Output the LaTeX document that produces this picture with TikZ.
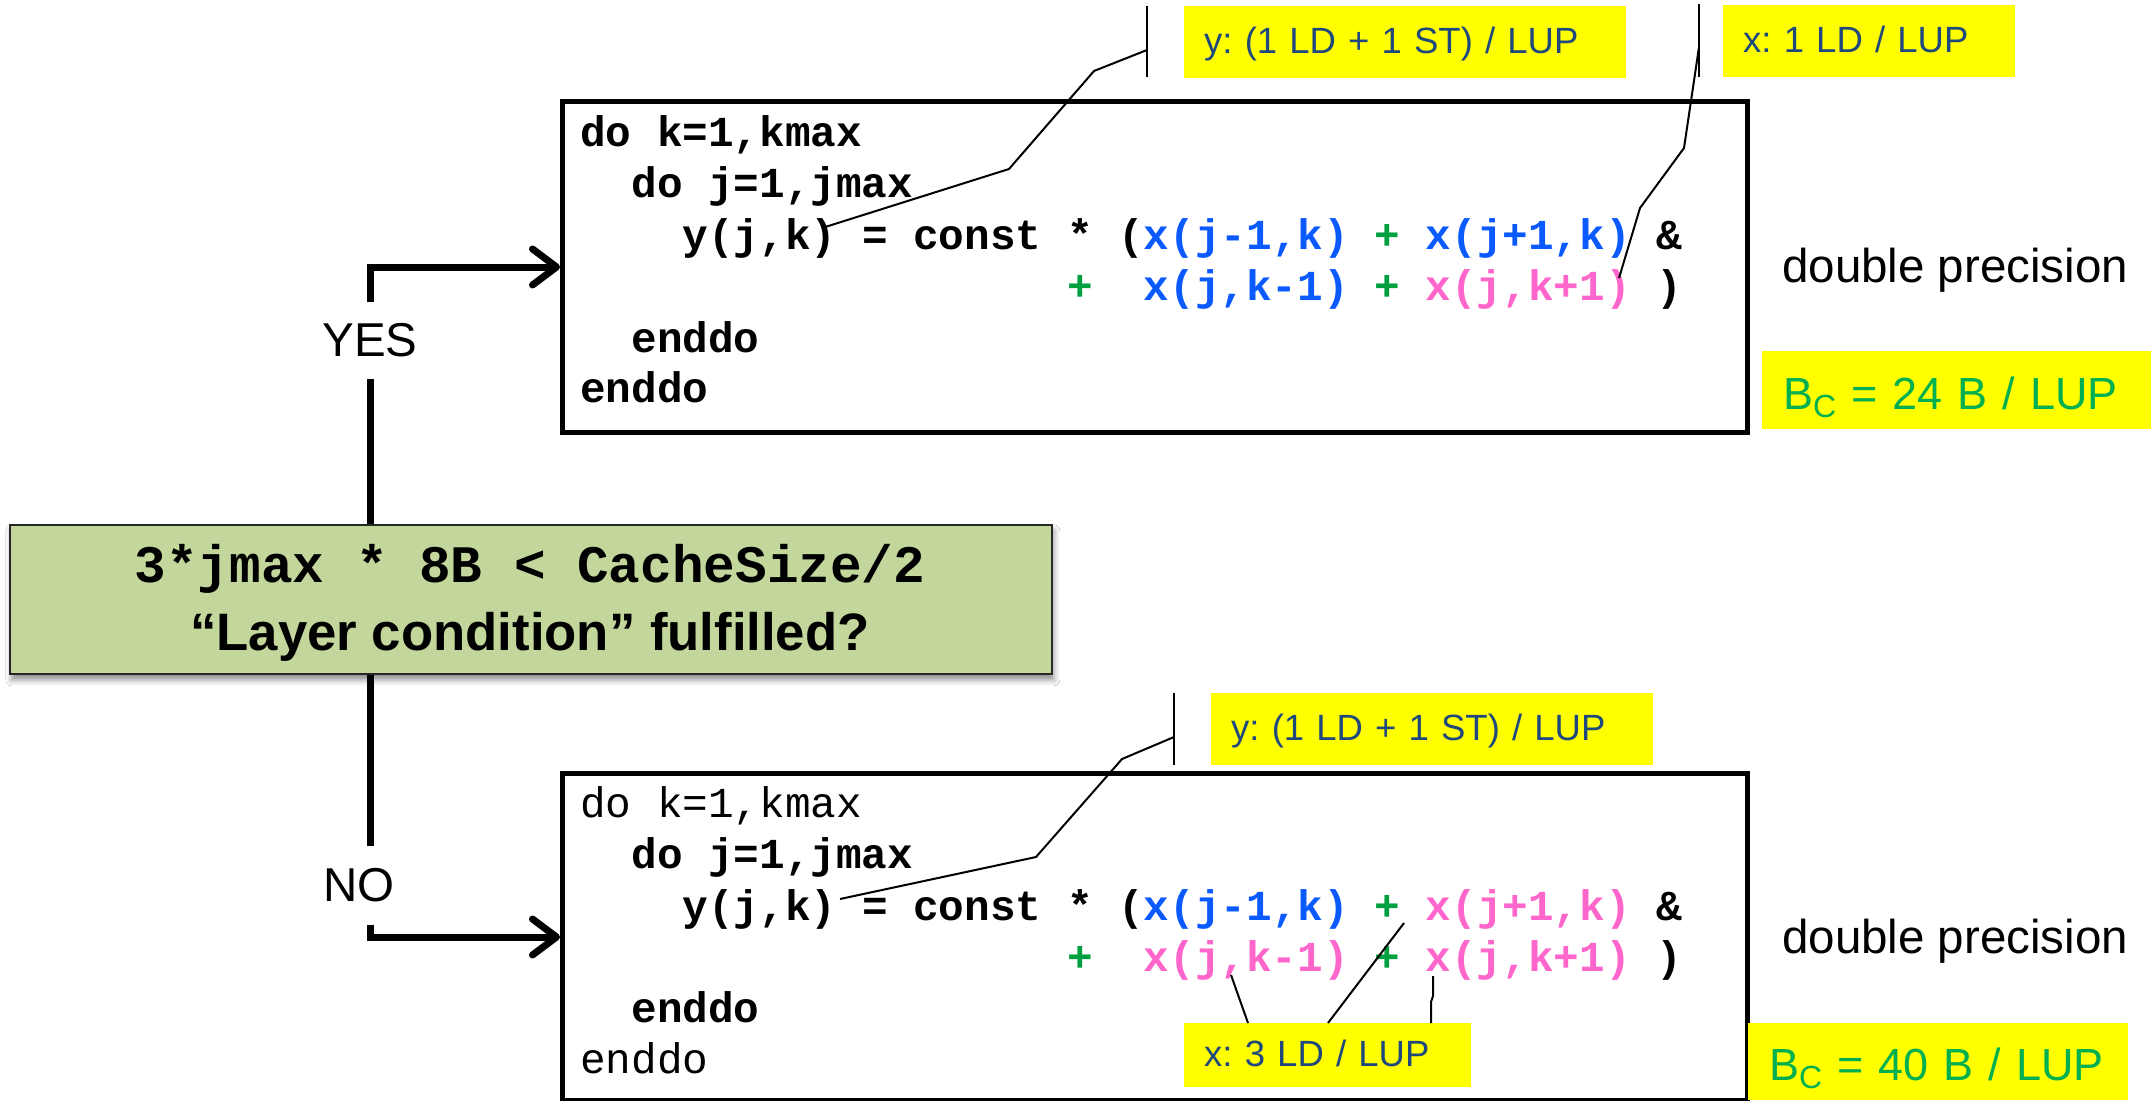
\documentclass[tikz,border=0pt]{standalone}
\usepackage{fontspec}
\setmainfont{Liberation Sans}
\newfontfamily\codefont{Liberation Mono}
\usetikzlibrary{arrows.meta,shadows.blur}
\definecolor{cblue}{HTML}{0A5AFF}
\definecolor{cpink}{HTML}{FF66CC}
\definecolor{cgreen}{HTML}{00A040}
\definecolor{labtext}{HTML}{1F497D}
\definecolor{bcgreen}{HTML}{00B050}
\definecolor{condfill}{HTML}{C3D69B}
\definecolor{labyellow}{HTML}{FFFF00}
\tikzset{
  codebox/.style={draw=black, line width=5pt, fill=white, anchor=north west, inner sep=0pt},
  codeb/.style={anchor=base west, inner sep=0pt, font=\codefont\bfseries\fontsize{42.7pt}{51pt}\selectfont},
  coder/.style={anchor=base west, inner sep=0pt, font=\codefont\mdseries\fontsize{42.7pt}{51pt}\selectfont},
  condbox/.style={fill=condfill, draw=black!85, line width=1.7pt, anchor=north west, inner sep=0pt,
    blur shadow={shadow xshift=2pt, shadow yshift=-6pt, shadow blur radius=6pt, shadow opacity=45}},
  lab/.style={fill=labyellow, anchor=north west, inner xsep=20pt, inner ysep=0pt, text height=28pt,
    text depth=6pt, align=left, text=labtext, font=\fontsize{36.5pt}{40pt}\selectfont},
  bclab/.style={fill=labyellow, anchor=north west, inner xsep=21pt, inner ysep=0pt, text height=38pt,
    text depth=0pt, align=left, text=bcgreen, font=\fontsize{45pt}{50pt}\selectfont},
  sidetext/.style={anchor=base west, inner sep=0pt, font=\fontsize{47.5pt}{52pt}\selectfont},
  yn/.style={inner xsep=0pt, font=\fontsize{47.5pt}{52pt}\selectfont},
  flow/.style={line width=7pt},
  flowarrow/.style={line width=7pt, -{Straight Barb[length=24pt,width=36pt,round]}},
  lead/.style={line width=2pt, black},
}
\newcommand{\BCtext}[1]{\mbox{B\raisebox{-8pt}{\fontsize{32pt}{32pt}\selectfont C} = #1 B / LUP}}
\begin{document}
\frenchspacing
\begin{tikzpicture}[x=1pt,y=-1pt]
\fill[white] (0,0) rectangle (2151,1100);
\useasboundingbox (0,0) rectangle (2151,1100);

% code boxes
\node[codebox, minimum width=1185pt, minimum height=331pt] (topbox) at (560,99) {};
\node[codebox, minimum width=1185pt, minimum height=327pt] (botbox) at (560,771) {};

% condition box
\node[condbox, minimum width=1042pt, minimum height=149pt] (cond) at (9,524) {};
\node[anchor=base, inner sep=0pt, font=\codefont\bfseries\fontsize{52.7pt}{60pt}\selectfont] (condA) at (530,582) {3*jmax * 8B < CacheSize/2};
\node[anchor=base, inner sep=0pt, font=\bfseries\fontsize{52.7pt}{60pt}\selectfont] (condB) at (530,650) {“Layer condition” fulfilled?};

% top code
\node[codeb] (t1) at (580,146) {do k=1,kmax};
\node[codeb] (t2) at (631.2,197) {do j=1,jmax};
\node[codeb] (t3) at (682.5,249) {y(j,k) = const * ({\color{cblue}x(j-1,k)} {\color{cgreen}+} {\color{cblue}x(j+1,k)} \&};
\node[codeb] (t4) at (1066.8,300) {{\color{cgreen}+}~~{\color{cblue}x(j,k-1)}~{\color{cgreen}+}~{\color{cpink}x(j,k+1)}~)};
\node[codeb] (t5) at (631.2,352) {enddo};
\node[codeb] (t6) at (580,402) {enddo};

% bottom code
\node[coder] (b1) at (580,817) {do k=1,kmax};
\node[codeb] (b2) at (631.2,868) {do j=1,jmax};
\node[codeb] (b3) at (682.5,920) {y(j,k) = const * ({\color{cblue}x(j-1,k)} {\color{cgreen}+} {\color{cpink}x(j+1,k)} \&};
\node[codeb] (b4) at (1066.8,971) {{\color{cgreen}+}~~{\color{cpink}x(j,k-1)}~{\color{cgreen}+}~{\color{cpink}x(j,k+1)}~)};
\node[codeb] (b5) at (631.2,1022) {enddo};
\node[coder] (b6) at (580,1073) {enddo};

% side texts
\node[sidetext] (dpA) at (1782,282) {double precision};
\node[sidetext] (dpB) at (1782,953) {double precision};
\node[bclab, text width=347pt, minimum height=78pt] (bcA) at (1762,351) {\BCtext{24}};
\node[bclab, text width=338pt, minimum height=77pt] (bcB) at (1748,1023) {\BCtext{40}};

% yellow callouts
\node[lab, text width=402pt, minimum height=72pt] (ylabA) at (1184,6) {y: (1 LD + 1 ST) / LUP};
\node[lab, text width=252pt, minimum height=72pt] (xlabA) at (1723,5) {x: 1 LD / LUP};
\node[lab, text width=402pt, minimum height=72pt] (ylabB) at (1211,693) {y: (1 LD + 1 ST) / LUP};
\node[lab, text width=247pt, minimum height=64pt] (xlabB) at (1184,1023) {x: 3 LD / LUP};

% callout leaders (top)
\coordinate (yAbt) at (1147,6);
\coordinate (yAbb) at (1147,77);
\coordinate (yAm) at (1147,50);
\coordinate (yAend) at (822,228);
\draw[lead] (yAbt) -- (yAbb);
\draw[lead] (yAm) -- (1094,71) -- (1009,169) -- (yAend);

\coordinate (xAbt) at (1699,4);
\coordinate (xAbb) at (1699,77);
\coordinate (xAm) at (1699,47);
\coordinate (xAend) at (1619,278);
\draw[lead] (xAbt) -- (xAbb);
\draw[lead] (xAm) -- (1684,148) -- (1640,208) -- (xAend);

% callout leaders (bottom)
\coordinate (yBbt) at (1174,693);
\coordinate (yBbb) at (1174,765);
\coordinate (yBm) at (1174,737);
\coordinate (yBend) at (840,899);
\draw[lead] (yBbt) -- (yBbb);
\draw[lead] (yBm) -- (1122,759) -- (1036,857) -- (yBend);

\coordinate (xB1) at (1231,975);
\coordinate (xB2) at (1404,923);
\coordinate (xB3) at (1433,976);
\draw[lead] (xlabB.north west -| 1248,0) -- (xB1);
\draw[lead] (xlabB.north west -| 1328,0) -- (xB2);
\draw[lead] (xlabB.north west -| 1431,0) -- (1431,1002) -- (1433,996) -- (xB3);

% decision flow
\node[yn, inner ysep=21pt] (yes) at (370,340.5) {YES};
\node[yn, inner ysep=22pt] (no) at (359,885.5) {NO};
\draw[flow] (cond.north -| yes) -- (yes.south);
\draw[flowarrow] (yes.north) |- (topbox.west);
\draw[flow] (cond.south -| yes) -- (no.north -| yes);
\draw[flowarrow] (no.south -| yes) |- (botbox.west);
\end{tikzpicture}
\end{document}
